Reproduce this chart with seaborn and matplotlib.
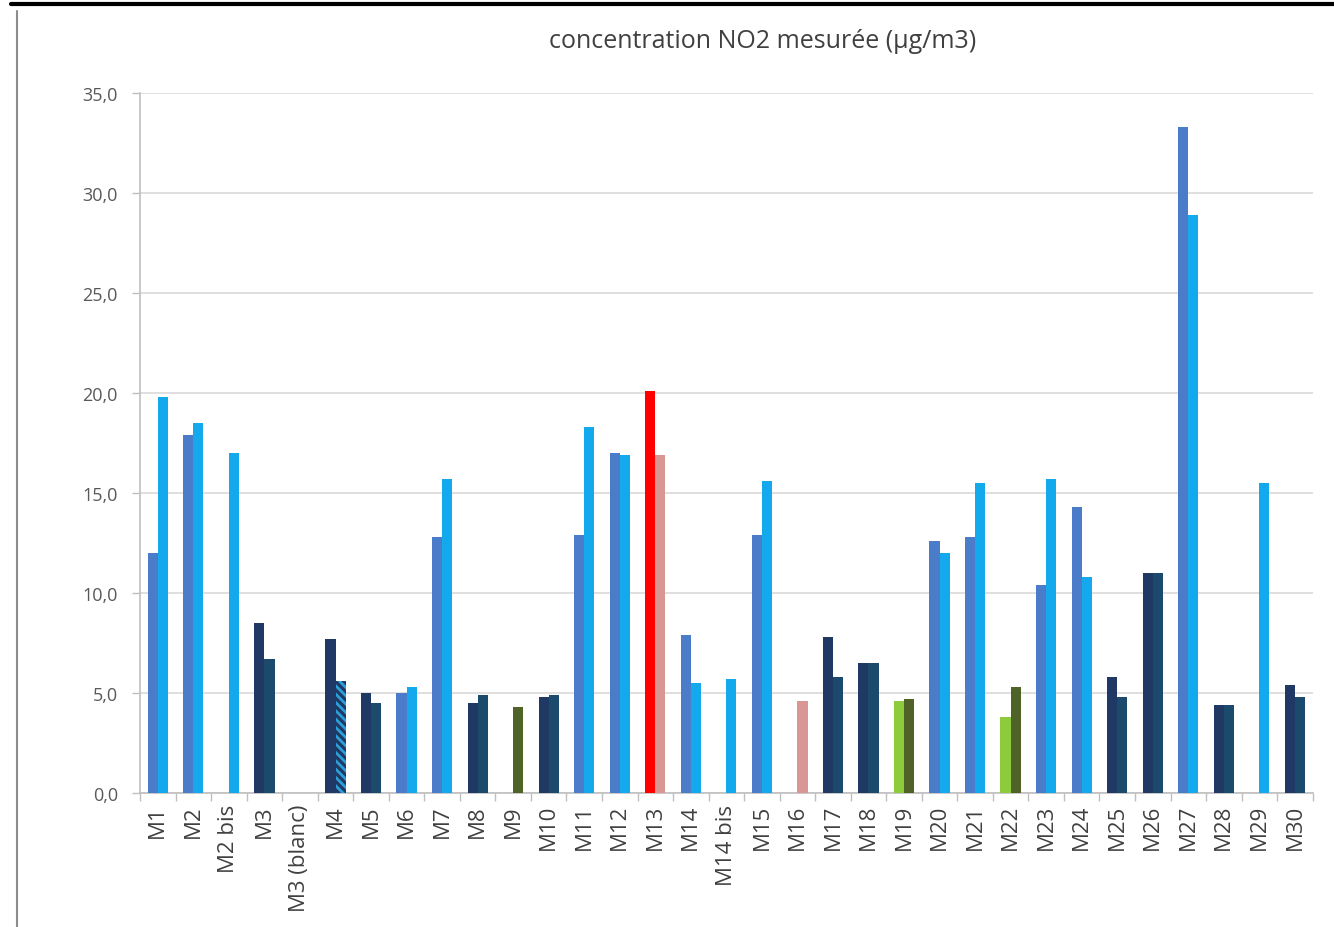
import matplotlib
matplotlib.use("Agg")
import matplotlib.pyplot as plt
from matplotlib.lines import Line2D
from matplotlib.ticker import FixedLocator, FuncFormatter
import numpy as np
import pandas as pd
import seaborn as sns

# ---------------- data ----------------
sites = ["M1", "M2", "M2 bis", "M3", "M3 (blanc)", "M4", "M5", "M6", "M7", "M8",
         "M9", "M10", "M11", "M12", "M13", "M14", "M14 bis", "M15", "M16", "M17",
         "M18", "M19", "M20", "M21", "M22", "M23", "M24", "M25", "M26", "M27",
         "M28", "M29", "M30"]
campagne1 = [12.0, 17.9, None, 8.5, None, 7.7, 5.0, 5.0, 12.8, 4.5,
             None, 4.8, 12.9, 17.0, 20.1, 7.9, None, 12.9, None, 7.8,
             6.5, 4.6, 12.6, 12.8, 3.8, 10.4, 14.3, 5.8, 11.0, 33.3,
             4.4, None, 5.4]
campagne2 = [19.8, 18.5, 17.0, 6.7, None, 5.6, 4.5, 5.3, 15.7, 4.9,
             4.3, 4.9, 18.3, 16.9, 16.9, 5.5, 5.7, 15.6, 4.6, 5.8,
             6.5, 4.7, 12.0, 15.5, 5.3, 15.7, 10.8, 4.8, 11.0, 28.9,
             4.4, 15.5, 4.8]
# colour class of each bar
classes1 = ["b", "b", "-", "n", "-", "n", "n", "b", "b", "n",
            "-", "n", "b", "b", "r", "b", "-", "b", "-", "n",
            "n", "lg", "b", "b", "lg", "b", "b", "n", "n", "b",
            "n", "-", "n"]
classes2 = ["c", "c", "c", "t", "-", "h", "t", "c", "c", "t",
            "o", "t", "c", "c", "p", "c", "c", "c", "p", "t",
            "t", "o", "c", "c", "o", "c", "c", "t", "t", "c",
            "t", "c", "t"]
title = "concentration NO2 mesurée (µg/m3)"

palette = {"b": "#4a7cc9", "c": "#14a8ec", "n": "#1f3864", "t": "#1b4a6c",
           "lg": "#8ccc3c", "o": "#4f6228", "r": "#ff0000", "p": "#d99694",
           "h": "#1f3864", "-": "#ffffff"}

# ---------------- figure ----------------
sns.set_theme(style="white")
plt.rcParams["font.family"] = ["Open Sans", "DejaVu Sans"]
plt.rcParams["hatch.linewidth"] = 2.0

fig = plt.figure(figsize=(13.34, 9.28), dpi=100)
ax = fig.add_axes([0.105, 0.1444, 0.879, 0.7543])

df = pd.DataFrame({
    "site": sites * 2,
    "valeur": [np.nan if v is None else v for v in campagne1 + campagne2],
    "campagne": ["1"] * len(sites) + ["2"] * len(sites),
})
df["valeur"] = df["valeur"].fillna(0.0)

sns.barplot(data=df, x="site", y="valeur", hue="campagne", order=sites,
            hue_order=["1", "2"], width=0.57, dodge=True, errorbar=None,
            legend=False, linewidth=0, ax=ax, zorder=3)

for cont, cls in zip(ax.containers, [classes1, classes2]):
    for patch, c in zip(cont.patches, cls):
        patch.set_facecolor(palette[c])
        patch.set_edgecolor("none")
        patch.set_linewidth(0)
        if c == "h":
            patch.set_hatch("\\\\\\\\")
            patch.set_edgecolor("#2b9fd6")

ax.set_ylim(0, 35)
ax.set_xlim(-0.5, len(sites) - 0.5)
ax.set_yticks(np.arange(0, 35.1, 5))
ax.yaxis.set_major_formatter(FuncFormatter(lambda v, p: f"{v:.1f}".replace(".", ",")))
ax.grid(axis="y", color="#d9d9d9", linewidth=1.2, zorder=0)
ax.set_axisbelow(True)
ax.set_xlabel("")
ax.set_ylabel("")

ax.xaxis.set_minor_locator(FixedLocator(np.arange(-0.5, len(sites), 1.0)))
ax.tick_params(axis="x", which="major", length=0, pad=8, labelsize=16,
               labelcolor="#404040", rotation=90)
ax.tick_params(axis="x", which="minor", length=6, color="#bfbfbf", width=1, bottom=True)
ax.tick_params(axis="y", which="major", length=6, color="#bfbfbf", width=1, left=True,
               labelsize=13, labelcolor="#595959", pad=10)

for s in ["top", "right"]:
    ax.spines[s].set_visible(False)
for s in ["left", "bottom"]:
    ax.spines[s].set_color("#bfbfbf")
    ax.spines[s].set_linewidth(1.2)

fig.text(0.572, 0.955, title, ha="center", va="center", fontsize=18, color="#404040")

# outer frame lines of the document
fig.add_artist(Line2D([0.008, 1.0], [0.9946, 0.9946], color="black", linewidth=3))
fig.add_artist(Line2D([0.013, 0.013], [0.0, 0.987], color="#8c8c8c", linewidth=1.5))

fig.savefig("out.png", dpi=100)
